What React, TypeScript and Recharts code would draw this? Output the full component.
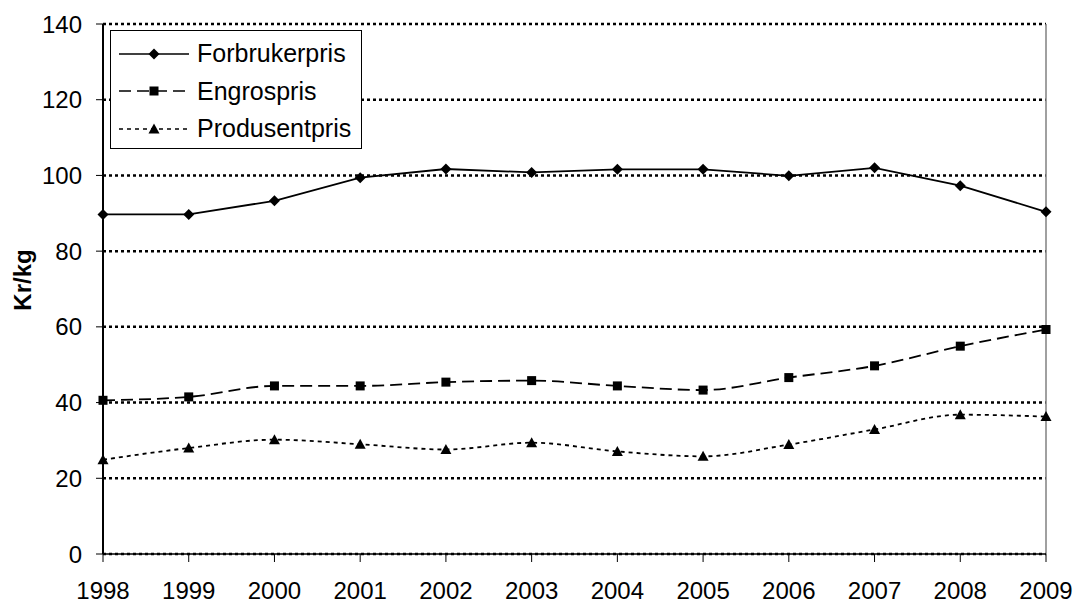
import React from 'react';
import { LineChart, Line, XAxis, YAxis, CartesianGrid, ReferenceLine } from 'recharts';

const years = ['1998','1999','2000','2001','2002','2003','2004','2005','2006','2007','2008','2009'];
const forbrukerpris = [89.7, 89.7, 93.3, 99.4, 101.7, 100.8, 101.6, 101.6, 99.9, 102.0, 97.3, 90.4];
const engrospris = [40.6, 41.5, 44.4, 44.4, 45.4, 45.8, 44.4, 43.3, 46.6, 49.7, 54.9, 59.3];
const produsentpris = [24.9, 28.0, 30.2, 29.0, 27.6, 29.4, 27.1, 25.8, 28.9, 32.9, 36.8, 36.3];
const yTicks = [0, 20, 40, 60, 80, 100, 120, 140];
const seriesNames = ['Forbrukerpris', 'Engrospris', 'Produsentpris'];
const yLabel = 'Kr/kg';

const data = years.map((y, i) => ({
  year: y,
  f: forbrukerpris[i],
  e: engrospris[i],
  p: produsentpris[i],
}));

const FONT = '"Liberation Sans", Arial, sans-serif';

const Diamond = (props: any) => {
  const { cx, cy } = props;
  if (cx == null || cy == null) return null;
  const r = 5.5;
  return <path d={`M${cx},${cy - r} L${cx + r},${cy} L${cx},${cy + r} L${cx - r},${cy} Z`} fill="#000" />;
};
const Square = (props: any) => {
  const { cx, cy } = props;
  if (cx == null || cy == null) return null;
  const r = 4.5;
  return <rect x={cx - r} y={cy - r} width={2 * r} height={2 * r} fill="#000" />;
};
const Triangle = (props: any) => {
  const { cx, cy } = props;
  if (cx == null || cy == null) return null;
  const r = 5.5;
  return <path d={`M${cx},${cy - r} L${cx + r},${cy + r - 1} L${cx - r},${cy + r - 1} Z`} fill="#000" />;
};

const LegendBox = () => {
  const rows = [
    { name: seriesNames[0], dash: undefined, marker: 'd' },
    { name: seriesNames[1], dash: '12 6', marker: 's' },
    { name: seriesNames[2], dash: '4 4', marker: 't' },
  ];
  return (
    <div style={{ position: 'absolute', left: 110, top: 30, border: '1.5px solid #000', background: '#fff', width: 252, height: 119, boxSizing: 'border-box', paddingTop: 4 }}>
      {rows.map((r) => (
        <div key={r.name} style={{ display: 'flex', alignItems: 'center', height: 37.5 }}>
          <svg width={80} height={20} style={{ marginLeft: 6, flex: 'none' }}>
            <line x1={2} x2={72} y1={10} y2={10} stroke="#000" strokeWidth={1.7} strokeDasharray={r.dash} />
            {r.marker === 'd' && <Diamond cx={37} cy={10} />}
            {r.marker === 's' && <Square cx={37} cy={10} />}
            {r.marker === 't' && <Triangle cx={37} cy={10} />}
          </svg>
          <span style={{ fontFamily: FONT, fontSize: 25, color: '#000', whiteSpace: 'nowrap' }}>{r.name}</span>
        </div>
      ))}
    </div>
  );
};

const YLabel = () => (
  <text x={22} y={280} transform="rotate(-90, 22, 280)" textAnchor="middle" dominantBaseline="central"
    style={{ fontSize: 24, fontWeight: 'bold', fontFamily: FONT, fill: '#000' }}>{yLabel}</text>
);

export default function App() {
  return (
    <div style={{ position: 'absolute', left: 0, top: 0, width: 1077, height: 605, background: '#fff' }}>
      <LineChart width={1077} height={605} data={data} margin={{ top: 24, right: 31, bottom: 0, left: 0 }}>
        <CartesianGrid vertical={false} stroke="#000" strokeWidth={2.5} strokeDasharray="3 3" />
        <ReferenceLine x="2009" stroke="#808080" strokeWidth={1.5} />
        <XAxis
          dataKey="year"
          height={51}
          axisLine={{ stroke: '#000', strokeWidth: 1.5 }}
          tickLine={{ stroke: '#000', strokeWidth: 1 }}
          tickSize={8}
          tickMargin={20}
          tick={{ fill: '#000', fontSize: 24, fontFamily: FONT }}
          interval={0}
        />
        <YAxis
          domain={[0, 140]}
          ticks={yTicks}
          width={103}
          axisLine={{ stroke: '#000', strokeWidth: 2 }}
          tickLine={{ stroke: '#000', strokeWidth: 1 }}
          tickSize={7}
          tickMargin={14}
          tick={{ fill: '#000', fontSize: 24, fontFamily: FONT }}
          label={<YLabel />}
        />
        <Line dataKey="f" name={seriesNames[0]} stroke="#000" strokeWidth={1.8} dot={<Diamond />} activeDot={false} isAnimationActive={false} type="linear" />
        <Line dataKey="e" name={seriesNames[1]} stroke="#000" strokeWidth={1.8} strokeDasharray="12 6" dot={<Square />} activeDot={false} isAnimationActive={false} type="monotone" />
        <Line dataKey="p" name={seriesNames[2]} stroke="#000" strokeWidth={1.8} strokeDasharray="4 4" dot={<Triangle />} activeDot={false} isAnimationActive={false} type="monotone" />
      </LineChart>
      <LegendBox />
    </div>
  );
}
